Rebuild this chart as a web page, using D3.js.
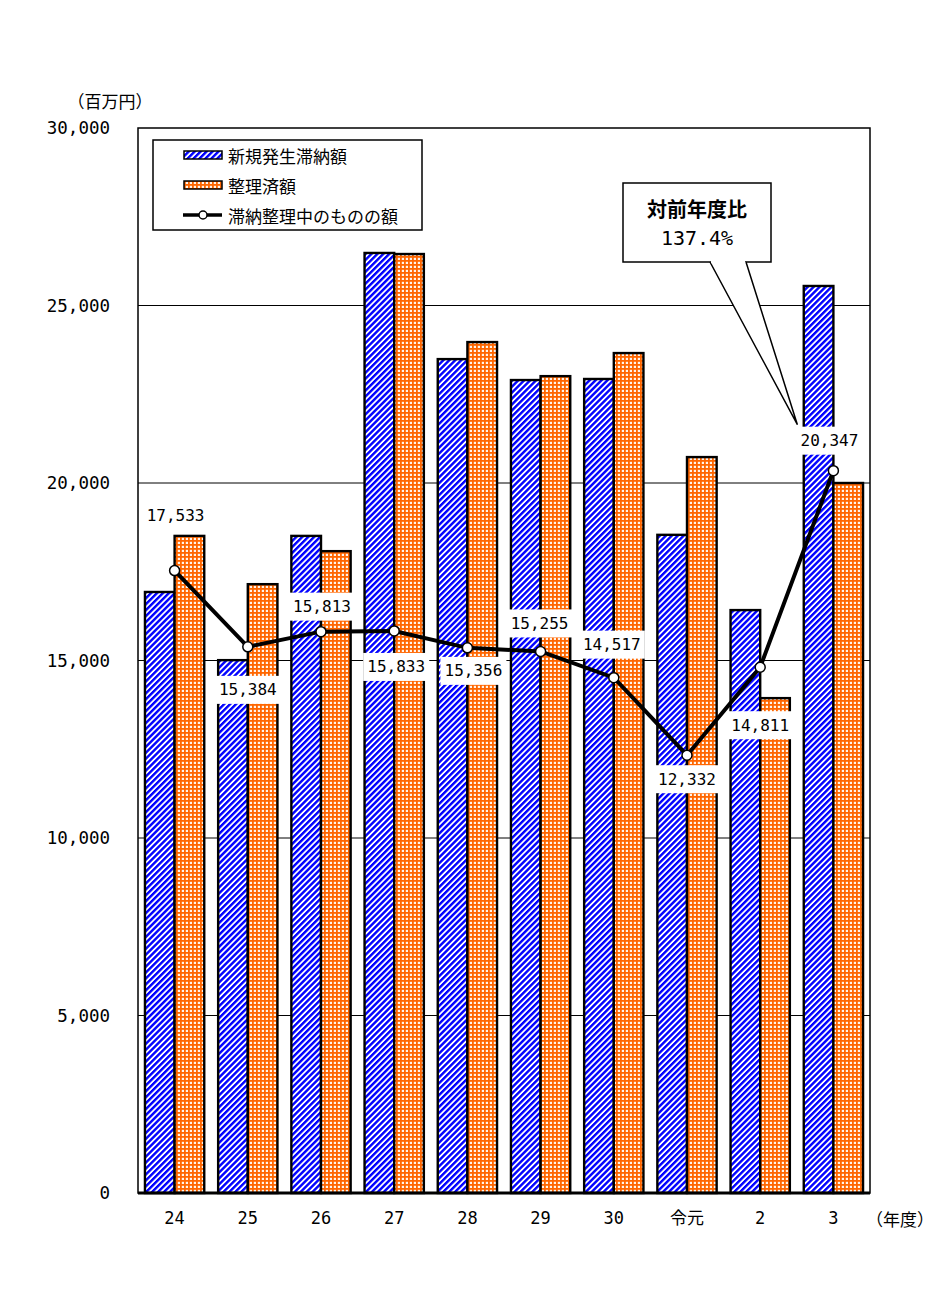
<!DOCTYPE html>
<html><head><meta charset="utf-8">
<script src="https://cdn.jsdelivr.net/npm/d3@7"></script>
<style>body{margin:0;background:#fff}</style>
</head><body>
<svg id="c" width="945" height="1313"></svg>
<script>
const categories = ["24","25","26","27","28","29","30","令元","2","3"];
const newArrears = [16930,15010,18510,26480,23490,22900,22930,18540,16420,25550];
const settled    = [18510,17150,18080,26450,23970,23010,23660,20730,13940,20000];
const remaining  = [17533,15384,15813,15833,15356,15255,14517,12332,14811,20347];
const yTicks = [0,5000,10000,15000,20000,25000,30000];
const seriesNames = ["新規発生滞納額","整理済額","滞納整理中のものの額"];
const calloutLines = ["対前年度比","137.4%"];

const svg = d3.select("#c");
const L=138,R=870,T=128,B=1193;
const x = d3.scaleBand().domain(categories).range([L,R]).paddingInner(0.19).paddingOuter(0.095);
const y = d3.scaleLinear().domain([0,30000]).range([B,T]);
const mono = "'DejaVu Sans Mono','Noto Sans CJK JP',monospace";
const jp = "'Noto Sans CJK JP',sans-serif";

const defs = svg.append("defs");
const pb = defs.append("pattern").attr("id","blue").attr("patternUnits","userSpaceOnUse")
  .attr("width",4.2).attr("height",4.2).attr("patternTransform","rotate(45)");
pb.append("rect").attr("width",4.2).attr("height",4.2).attr("fill","#fff");
pb.append("rect").attr("width",2.4).attr("height",4.2).attr("fill","#0000ff");
const po = defs.append("pattern").attr("id","orange").attr("patternUnits","userSpaceOnUse")
  .attr("width",4).attr("height",4);
po.append("rect").attr("width",4).attr("height",4).attr("fill","#fff4ea");
po.append("rect").attr("width",4).attr("height",1.8).attr("fill","#ff6600");
po.append("rect").attr("width",1.8).attr("height",4).attr("fill","#ff6600");

// grid
svg.append("g").selectAll("line").data(yTicks.filter(d=>d>0&&d<30000)).join("line")
  .attr("x1",L).attr("x2",R).attr("y1",d=>y(d)).attr("y2",d=>y(d))
  .attr("stroke","#000").attr("stroke-width",1);

// bars
const bw = x.bandwidth()/2;
svg.append("g").selectAll("rect").data(categories).join("rect")
  .attr("x",d=>x(d)).attr("y",(d,i)=>y(newArrears[i])).attr("width",bw)
  .attr("height",(d,i)=>B-y(newArrears[i])).attr("fill","url(#blue)")
  .attr("stroke","#000").attr("stroke-width",2.4);
svg.append("g").selectAll("rect").data(categories).join("rect")
  .attr("x",d=>x(d)+bw).attr("y",(d,i)=>y(settled[i])).attr("width",bw)
  .attr("height",(d,i)=>B-y(settled[i])).attr("fill","url(#orange)")
  .attr("stroke","#000").attr("stroke-width",2.4);

// plot border
svg.append("rect").attr("x",L).attr("y",T).attr("width",R-L).attr("height",B-T)
  .attr("fill","none").attr("stroke","#000").attr("stroke-width",1.5);
svg.append("line").attr("x1",L).attr("x2",R).attr("y1",B).attr("y2",B).attr("stroke","#000").attr("stroke-width",3);

// line
const cx = d=>x(d)+x.bandwidth()/2;
const line = d3.line().x((d,i)=>cx(categories[i])).y(d=>y(d));
svg.append("path").datum(remaining).attr("d",line).attr("fill","none")
  .attr("stroke","#000").attr("stroke-width",4);
svg.append("g").selectAll("circle").data(remaining).join("circle")
  .attr("cx",(d,i)=>cx(categories[i])).attr("cy",d=>y(d)).attr("r",5)
  .attr("fill","#fff").attr("stroke","#000").attr("stroke-width",1.5);

// value labels
const labelDy = [-55,43,-25,36,23,-28,-33,24,58,-30];
const labelDx = [1,0,1,2,6,-1,-2,0,0,-4];
const fmt = d3.format(",");
const lg = svg.append("g");
remaining.forEach((v,i)=>{
  const px = cx(categories[i])+labelDx[i], py = y(v)+labelDy[i];
  lg.append("rect").attr("x",px-33).attr("y",py-14).attr("width",66).attr("height",28).attr("fill","#fff");
  lg.append("text").attr("x",px).attr("y",py).attr("text-anchor","middle").attr("dominant-baseline","central")
    .attr("font-family",mono).attr("font-size",16).text(fmt(v));
});

// axes labels
svg.append("g").selectAll("text").data(yTicks).join("text")
  .attr("x",110).attr("y",d=>y(d)).attr("text-anchor","end").attr("dominant-baseline","central")
  .attr("font-family",mono).attr("font-size",17.5).text(d=>fmt(d));
svg.append("text").attr("x",110).attr("y",100).attr("text-anchor","middle").attr("dominant-baseline","central")
  .attr("font-family",jp).attr("font-size",17).text("（百万円）");
svg.append("g").selectAll("text").data(categories).join("text")
  .attr("x",d=>cx(d)).attr("y",1218).attr("text-anchor","middle").attr("dominant-baseline","central")
  .attr("font-family",mono).attr("font-size",17).text(d=>d);
svg.append("text").attr("x",900).attr("y",1218).attr("text-anchor","middle").attr("dominant-baseline","central")
  .attr("font-family",jp).attr("font-size",17).text("（年度）");

// legend
const lgd = svg.append("g");
lgd.append("rect").attr("x",153).attr("y",140).attr("width",269).attr("height",90)
  .attr("fill","#fff").attr("stroke","#000").attr("stroke-width",1.5);
const rowsY=[155,185,215];
["url(#blue)","url(#orange)"].forEach((f,i)=>{
  lgd.append("rect").attr("x",184).attr("y",rowsY[i]-4).attr("width",38).attr("height",8)
    .attr("fill",f).attr("stroke","#000").attr("stroke-width",1.5);
});
lgd.append("line").attr("x1",183).attr("x2",222).attr("y1",rowsY[2]).attr("y2",rowsY[2]).attr("stroke","#000").attr("stroke-width",3.5);
lgd.append("circle").attr("cx",203).attr("cy",rowsY[2]).attr("r",4).attr("fill","#fff").attr("stroke","#000").attr("stroke-width",1.5);
seriesNames.forEach((s,i)=>{
  lgd.append("text").attr("x",228).attr("y",rowsY[i]).attr("dominant-baseline","central")
    .attr("font-family",jp).attr("font-size",17).text(s);
});

// callout
const cg = svg.append("g");
cg.append("rect").attr("x",623).attr("y",183).attr("width",148).attr("height",79)
  .attr("fill","#fff").attr("stroke","#000").attr("stroke-width",1.5);
const tip = [cx("3")-36, y(remaining[9])-46];
cg.append("path").attr("d",`M710,262 L${tip[0]},${tip[1]} L746,262`).attr("fill","#fff").attr("stroke","#000").attr("stroke-width",1.5);
cg.append("line").attr("x1",711).attr("x2",745).attr("y1",262).attr("y2",262).attr("stroke","#fff").attr("stroke-width",2.5);
cg.append("text").attr("x",697).attr("y",208).attr("text-anchor","middle").attr("dominant-baseline","central")
  .attr("font-family",jp).attr("font-size",20).attr("font-weight","bold").text(calloutLines[0]);
cg.append("text").attr("x",697).attr("y",238).attr("text-anchor","middle").attr("dominant-baseline","central")
  .attr("font-family",mono).attr("font-size",20).text(calloutLines[1]);
</script>
</body></html>
